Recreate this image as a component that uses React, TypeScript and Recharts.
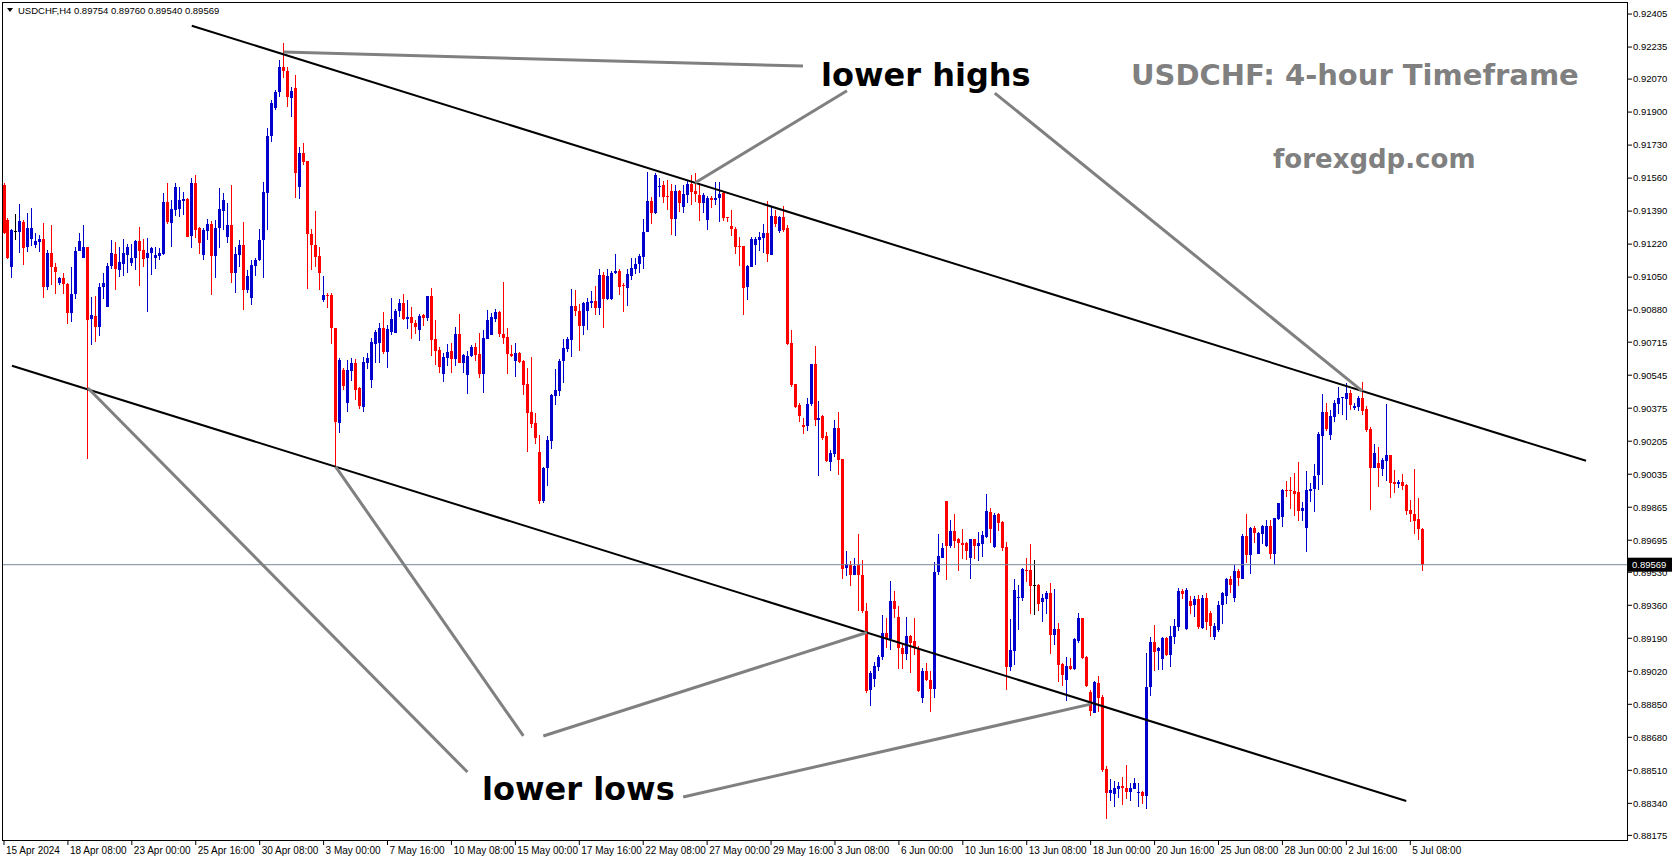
import { Bar, ComposedChart, ReferenceLine, XAxis, YAxis } from "recharts";

// USDCHF H4, prices in points (1e-5): [open, high, low, close]
const ohlc: number[][] = [
  [91524, 91533, 91270, 91275], [91344, 91353, 91141, 91147], [91104, 91296, 91044, 91292], [91287, 91375, 91241, 91287],
  [91284, 91426, 91172, 91339], [91335, 91344, 91112, 91202], [91202, 91378, 91178, 91301], [91246, 91404, 91207, 91301],
  [91215, 91275, 91198, 91236], [91232, 91267, 91181, 91246], [91246, 91327, 90941, 90997], [90997, 91189, 90983, 91172],
  [91172, 91317, 91009, 91099], [91104, 91121, 90961, 91078], [91018, 91052, 91009, 91044], [91044, 91069, 90961, 91013],
  [91013, 91021, 90812, 90863], [90863, 91104, 90820, 90961], [90961, 91207, 90941, 91184], [91184, 91275, 91181, 91236],
  [91152, 91318, 91147, 91207], [91207, 91207, 90117, 90832], [90832, 90949, 90700, 90855], [90850, 90953, 90717, 90795],
  [90795, 91018, 90743, 91001], [90997, 91069, 90937, 91018], [90894, 91121, 90894, 91107], [91107, 91241, 91090, 91176],
  [91169, 91232, 90983, 91090], [91090, 91207, 91052, 91129], [91117, 91246, 91056, 91172], [91167, 91219, 91069, 91207],
  [91124, 91219, 91104, 91150], [91150, 91241, 91087, 91238], [91238, 91310, 91006, 91189], [91189, 91246, 91104, 91141],
  [91147, 91250, 90867, 91172], [91172, 91207, 91061, 91198], [91147, 91207, 91095, 91164], [91155, 91198, 91135, 91172],
  [91172, 91481, 91164, 91438], [91438, 91536, 91327, 91335], [91330, 91447, 91207, 91401], [91399, 91533, 91361, 91516],
  [91399, 91516, 91361, 91447], [91444, 91490, 91370, 91452], [91452, 91455, 91255, 91258], [91258, 91559, 91198, 91533],
  [91533, 91576, 91250, 91292], [91301, 91310, 91172, 91224], [91164, 91301, 91138, 91292], [91284, 91349, 91241, 91322],
  [91322, 91339, 90958, 91159], [91159, 91344, 91044, 91301], [91301, 91507, 91198, 91401], [91392, 91485, 91292, 91447],
  [91258, 91430, 91224, 91318], [91318, 91524, 91018, 91073], [91073, 91207, 90970, 91169], [91164, 91241, 91104, 91215],
  [91215, 91335, 90884, 90983], [90983, 91087, 90966, 91056], [90941, 91138, 90906, 91112], [91109, 91147, 91052, 91138],
  [91138, 91296, 91129, 91241], [91241, 91541, 91047, 91486], [91486, 91816, 91292, 91777], [91777, 91962, 91747, 91945],
  [91922, 92013, 91910, 92002], [92002, 92168, 91979, 92130], [92130, 92254, 92074, 92111], [92111, 92134, 91928, 91976],
  [91976, 92031, 91876, 92010], [92022, 92091, 91456, 91584], [91512, 91722, 91456, 91687], [91687, 91739, 91624, 91641],
  [91648, 91648, 90987, 91270], [91270, 91296, 91087, 91215], [91215, 91392, 91104, 91155], [91159, 91203, 90983, 91069],
  [90932, 91056, 90923, 90958], [90958, 90966, 90889, 90953], [90958, 90966, 90704, 90786], [90786, 90786, 90074, 90300],
  [90300, 90632, 90245, 90623], [90572, 90580, 90469, 90489], [90403, 90623, 90357, 90572], [90563, 90632, 90511, 90606],
  [90606, 90626, 90417, 90465], [90477, 90486, 90374, 90383], [90383, 90640, 90357, 90614], [90606, 90661, 90580, 90632],
  [90523, 90735, 90477, 90717], [90709, 90777, 90606, 90769], [90709, 90812, 90606, 90786], [90786, 90872, 90657, 90661],
  [90661, 90803, 90580, 90781], [90769, 90941, 90752, 90834], [90764, 90886, 90764, 90875], [90872, 90937, 90846, 90915],
  [90915, 90963, 90829, 90834], [90834, 90932, 90783, 90846], [90843, 90896, 90731, 90812], [90815, 90829, 90757, 90795],
  [90778, 90858, 90718, 90851], [90857, 90860, 90800, 90841], [90841, 90953, 90826, 90953], [90953, 90996, 90645, 90726],
  [90731, 90829, 90597, 90671], [90675, 90692, 90558, 90589], [90549, 90661, 90512, 90637], [90635, 90706, 90594, 90666],
  [90669, 90711, 90558, 90630], [90630, 90795, 90594, 90757], [90757, 90860, 90606, 90609], [90609, 90654, 90558, 90649],
  [90549, 90671, 90451, 90645], [90640, 90700, 90637, 90688], [90688, 90709, 90618, 90649], [90652, 90764, 90532, 90551],
  [90551, 90778, 90455, 90735], [90731, 90881, 90731, 90829], [90748, 90863, 90748, 90843], [90834, 90886, 90817, 90869],
  [90869, 90875, 90743, 90755], [90757, 91026, 90709, 90738], [90740, 90786, 90549, 90654], [90654, 90699, 90637, 90644],
  [90618, 90709, 90532, 90661], [90661, 90666, 90609, 90615], [90620, 90623, 90443, 90494], [90499, 90580, 90146, 90352],
  [90357, 90640, 90275, 90297], [90297, 90352, 90194, 90220], [90148, 90237, 89880, 89894], [89894, 90074, 89888, 90065],
  [90065, 90233, 89976, 90211], [90208, 90446, 90165, 90443], [90439, 90577, 90391, 90469], [90465, 90627, 90434, 90620],
  [90615, 90731, 90503, 90683], [90680, 90743, 90666, 90731], [90726, 90989, 90640, 90903], [90903, 90984, 90851, 90875],
  [90875, 90912, 90671, 90800], [90798, 90924, 90752, 90918], [90872, 90941, 90778, 90920], [90918, 90978, 90889, 90927],
  [90927, 91004, 90855, 90893], [90893, 91090, 90855, 91061], [91061, 91078, 90790, 90936], [90936, 91090, 90929, 91057],
  [90941, 91081, 90932, 91073], [91073, 91169, 91066, 91081], [91081, 91090, 90958, 91001], [91009, 91021, 90872, 91004],
  [90996, 91090, 90901, 91066], [91057, 91147, 91035, 91099], [91092, 91147, 91066, 91117], [91117, 91169, 91069, 91159],
  [91155, 91349, 91092, 91282], [91282, 91590, 91279, 91442], [91442, 91464, 91327, 91382], [91382, 91588, 91378, 91576],
  [91516, 91559, 91459, 91519], [91524, 91545, 91433, 91464], [91468, 91550, 91396, 91464], [91493, 91528, 91267, 91348],
  [91348, 91524, 91262, 91493], [91493, 91499, 91387, 91433], [91413, 91524, 91378, 91478], [91473, 91550, 91433, 91530],
  [91530, 91576, 91421, 91490], [91493, 91584, 91433, 91476], [91473, 91536, 91341, 91430], [91430, 91485, 91382, 91473],
  [91344, 91468, 91293, 91456], [91456, 91468, 91408, 91444], [91444, 91542, 91421, 91456], [91459, 91538, 91332, 91478],
  [91485, 91493, 91336, 91356], [91358, 91361, 91336, 91353], [91313, 91396, 91262, 91296], [91298, 91310, 91169, 91207],
  [91210, 91255, 91104, 91207], [91210, 91210, 90855, 90996], [91001, 91112, 90932, 91107], [91104, 91255, 91099, 91246],
  [91215, 91255, 91112, 91246], [91241, 91282, 91186, 91257], [91253, 91324, 91176, 91279], [91279, 91442, 91130, 91169],
  [91166, 91416, 91164, 91365], [91365, 91396, 91306, 91324], [91284, 91366, 91279, 91358], [91358, 91416, 91284, 91293],
  [91305, 91318, 90700, 90709], [90712, 90778, 90486, 90494], [90499, 90499, 90374, 90383], [90389, 90403, 90307, 90331],
  [90291, 90322, 90240, 90280], [90286, 90426, 90258, 90399], [90394, 90602, 90385, 90602], [90602, 90696, 90286, 90316],
  [90316, 90412, 90024, 90327], [90334, 90340, 90210, 90222], [90231, 90253, 90096, 90100], [90100, 90159, 90051, 90145],
  [90141, 90313, 90123, 90273], [90273, 90358, 90036, 90110], [90114, 90114, 89494, 89549], [89549, 89639, 89509, 89572],
  [89567, 89590, 89460, 89518], [89518, 89603, 89514, 89563], [89567, 89726, 89328, 89513], [89518, 89594, 89323, 89332],
  [89328, 89370, 88907, 88918], [88922, 89021, 88841, 89012], [88980, 89066, 88936, 89048], [89043, 89102, 89021, 89093],
  [89090, 89310, 89079, 89216], [89216, 89296, 89139, 89184], [89184, 89487, 89130, 89382], [89382, 89433, 89296, 89343],
  [89301, 89355, 89030, 89139], [89139, 89166, 89030, 89106], [89108, 89301, 89079, 89202], [89202, 89207, 89012, 89166],
  [89175, 89292, 89102, 89139], [89142, 89151, 88913, 88922], [88880, 89039, 88859, 89021], [89021, 89061, 88967, 88976],
  [88976, 89021, 88808, 88931], [88931, 89581, 88880, 89531], [89531, 89726, 89513, 89612], [89608, 89680, 89603, 89657],
  [89897, 89897, 89491, 89666], [89668, 89798, 89653, 89744], [89744, 89830, 89653, 89690], [89699, 89708, 89536, 89677],
  [89680, 89753, 89599, 89671], [89680, 89684, 89590, 89641], [89603, 89702, 89494, 89699], [89699, 89702, 89599, 89662],
  [89662, 89738, 89590, 89680], [89677, 89744, 89608, 89722], [89711, 89933, 89708, 89847], [89842, 89859, 89679, 89756],
  [89662, 89837, 89658, 89825], [89830, 89837, 89742, 89782], [89791, 89796, 89641, 89657], [89662, 89688, 88924, 89044],
  [89044, 89289, 89023, 89130], [89126, 89495, 89052, 89439], [89399, 89464, 89233, 89404], [89399, 89550, 89382, 89547],
  [89542, 89605, 89482, 89538], [89542, 89676, 89315, 89461], [89464, 89593, 89310, 89464], [89464, 89470, 89332, 89367],
  [89379, 89416, 89270, 89399], [89392, 89435, 89315, 89425], [89425, 89476, 89109, 89207], [89207, 89444, 89155, 89238],
  [89238, 89270, 88967, 89052], [89058, 89061, 88941, 89001], [88979, 89095, 88869, 89049], [89049, 89090, 89030, 89035],
  [89032, 89190, 89023, 89185], [89178, 89322, 89169, 89296], [89296, 89296, 89087, 89092], [89095, 89099, 88941, 88946],
  [88912, 88924, 88790, 88812], [88809, 88970, 88807, 88967], [88961, 88996, 88812, 88884], [88889, 88898, 88503, 88515],
  [88517, 88534, 88259, 88395], [88395, 88465, 88352, 88409], [88391, 88455, 88319, 88421], [88414, 88452, 88371, 88431],
  [88429, 88474, 88331, 88421], [88421, 88537, 88360, 88400], [88400, 88443, 88352, 88421], [88414, 88469, 88412, 88443],
  [88397, 88446, 88323, 88400], [88400, 88403, 88336, 88378], [88374, 89116, 88311, 88937], [88941, 89195, 88893, 89173],
  [89173, 89258, 89023, 89121], [89121, 89147, 89030, 89138], [89083, 89198, 89030, 89193], [89193, 89198, 89100, 89104],
  [89104, 89253, 89044, 89203], [89198, 89289, 89159, 89255], [89250, 89447, 89224, 89433], [89435, 89444, 89392, 89418],
  [89240, 89451, 89233, 89440], [89382, 89408, 89315, 89358], [89358, 89408, 89301, 89391], [89391, 89413, 89236, 89245],
  [89245, 89413, 89236, 89399], [89399, 89421, 89233, 89275], [89318, 89330, 89198, 89250], [89198, 89267, 89181, 89255],
  [89233, 89384, 89224, 89361], [89361, 89430, 89267, 89421], [89409, 89499, 89366, 89495], [89495, 89511, 89425, 89464],
  [89399, 89567, 89378, 89538], [89538, 89545, 89459, 89502], [89499, 89725, 89499, 89718], [89718, 89830, 89576, 89619],
  [89619, 89765, 89521, 89760], [89760, 89768, 89682, 89734], [89624, 89739, 89624, 89734], [89727, 89773, 89674, 89768],
  [89665, 89799, 89662, 89768], [89768, 89799, 89597, 89624], [89624, 89811, 89567, 89808], [89803, 89888, 89799, 89885],
  [89813, 89957, 89760, 89954], [89954, 90000, 89919, 89948], [89952, 90022, 89857, 89945], [89948, 90039, 89816, 89935],
  [89945, 90096, 89790, 89845], [89847, 89890, 89790, 89863], [89760, 90051, 89633, 89954], [89950, 89988, 89888, 89959],
  [89959, 90086, 89837, 90027], [90027, 90254, 89957, 90240], [90232, 90446, 89979, 90357], [90357, 90403, 90257, 90271],
  [90237, 90366, 90211, 90335], [90331, 90417, 90306, 90403], [90396, 90486, 90348, 90426], [90426, 90434, 90340, 90431],
  [90426, 90503, 90314, 90455], [90455, 90469, 90366, 90391], [90378, 90400, 90366, 90386], [90383, 90438, 90360, 90429],
  [90429, 90508, 90340, 90360], [90371, 90386, 90254, 90263], [90268, 90280, 89851, 90069], [90069, 90191, 90065, 90146],
  [90094, 90177, 89971, 90069], [90062, 90120, 90027, 90108], [90103, 90396, 89999, 90134], [90134, 90134, 89911, 89991],
  [89997, 90057, 89940, 89985], [89988, 90005, 89966, 89997], [89993, 90034, 89954, 89971], [89980, 89985, 89825, 89847],
  [89851, 89902, 89787, 89828], [89830, 90062, 89727, 89794], [89804, 89911, 89696, 89753], [89754, 89760, 89540, 89569],
];

// time axis labels, one every 16 bars
const timeLabels = [
  "15 Apr 2024", "18 Apr 08:00", "23 Apr 00:00", "25 Apr 16:00", "30 Apr 08:00", "3 May 00:00",
  "7 May 16:00", "10 May 08:00", "15 May 00:00", "17 May 16:00", "22 May 08:00", "27 May 00:00",
  "29 May 16:00", "3 Jun 08:00", "6 Jun 00:00", "10 Jun 16:00", "13 Jun 08:00", "18 Jun 00:00",
  "20 Jun 16:00", "25 Jun 08:00", "28 Jun 00:00", "2 Jul 16:00", "5 Jul 08:00",
];
const barsPerLabel = 16;

const priceTicks = [
  0.92405, 0.92235, 0.9207, 0.919, 0.9173, 0.9156, 0.9139, 0.9122, 0.9105, 0.9088, 0.90715, 0.90545, 0.90375,
  0.90205, 0.90035, 0.89865, 0.89695, 0.8953, 0.8936, 0.8919, 0.8902, 0.8885, 0.8868, 0.8851, 0.8834, 0.88175,
];
const lastPrice = 0.89569;
const priceDomain = [0.88146, 0.92467];
const totalSlots = 407; // bars + empty shift space on the right

// trend channel (bar index, price)
const upperChannel = [
  { x: 47, y: 0.92345 },
  { x: 396, y: 0.90104 },
];
const lowerChannel = [
  { x: 2, y: 0.90594 },
  { x: 351, y: 0.88352 },
];

// callout pointers (bar index, price)
const pointers = [
  [{ x: 70, y: 0.92209 }, { x: 200, y: 0.92137 }],
  [{ x: 173, y: 0.91536 }, { x: 211, y: 0.9201 }],
  [{ x: 248, y: 0.91998 }, { x: 340, y: 0.90463 }],
  [{ x: 21, y: 0.90479 }, { x: 116, y: 0.88501 }],
  [{ x: 83, y: 0.90074 }, { x: 130, y: 0.88687 }],
  [{ x: 216, y: 0.8922 }, { x: 135, y: 0.88687 }],
  [{ x: 272, y: 0.88851 }, { x: 170, y: 0.88373 }],
];

const data = Array.from({ length: totalSlots }, (_, i) => {
  const bar = ohlc[i];
  if (!bar) return { i };
  const [o, h, l, c] = bar.map((v) => v / 1e5);
  return { i, o, h, l, c, range: [l, h] };
});

const labelSlots = timeLabels.map((_, n) => n * barsPerLabel);

const axisFont = "'Liberation Sans', Arial, sans-serif";

function Candle(props: any) {
  const { x, y, width, height, payload } = props;
  if (!payload || !payload.range) return null;
  const top = Math.min(y, y + height);
  const span = Math.abs(height);
  const { o, h, l, c } = payload;
  const k = span / (h - l || 1);
  const cx = Math.floor(x + width / 2);
  const bodyTop = top + (h - Math.max(o, c)) * k;
  const bodyBot = top + (h - Math.min(o, c)) * k;
  const color = c > o ? "#0000cd" : c < o ? "#ff0000" : "#000000";
  return (
    <g>
      <rect x={cx} y={Math.round(top)} width={1} height={Math.max(1, Math.round(span))} fill={color} />
      <rect
        x={cx - 1}
        y={Math.round(bodyTop)}
        width={3}
        height={Math.max(1, Math.round(bodyBot - bodyTop))}
        fill={color}
      />
    </g>
  );
}

function TimeTick(props: any) {
  const { x, y, payload } = props;
  const label = timeLabels[payload.value / barsPerLabel];
  return (
    <g>
      <line x1={x} x2={x} y1={y} y2={y + 4} stroke="#000" />
      <text x={x + 2} y={y + 13} fontSize={10} fontFamily={axisFont} fill="#000" textAnchor="start">
        {label}
      </text>
    </g>
  );
}

function PriceTick(props: any) {
  const { x, y, payload } = props;
  const v = payload.value as number;
  if (v === lastPrice) {
    return (
      <g>
        <rect x={x} y={y - 7} width={44} height={14} fill="#000" />
        <text x={x + 4} y={y} dy="0.35em" fontSize={9.5} fontFamily={axisFont} fill="#fff">
          {v.toFixed(5)}
        </text>
      </g>
    );
  }
  return (
    <g>
      <line x1={x} x2={x + 4} y1={y} y2={y} stroke="#000" />
      <text x={x + 5} y={y} dy="0.35em" fontSize={9.5} fontFamily={axisFont} fill="#000">
        {v.toFixed(5)}
      </text>
    </g>
  );
}

export default function App() {
  return (
    <div style={{ position: "relative", width: 1673, height: 861, background: "#fff" }}>
      <style>{`body{margin:0;}`}</style>
      <ComposedChart
        width={1673}
        height={861}
        data={data}
        margin={{ top: 2, right: 0, bottom: 0, left: 2 }}
        barCategoryGap={0}
      >
        <XAxis
          dataKey="i"
          type="category"
          ticks={labelSlots}
          interval={0}
          height={20}
          tickSize={0}
          tickMargin={0}
          tickLine={false}
          axisLine={false}
          tick={<TimeTick />}
        />
        <YAxis
          orientation="right"
          type="number"
          domain={priceDomain}
          allowDataOverflow
          ticks={[...priceTicks, lastPrice]}
          interval={0}
          width={45}
          tickSize={0}
          tickMargin={0}
          tickLine={false}
          axisLine={false}
          tick={<PriceTick />}
        />
        <ReferenceLine y={lastPrice} stroke="#778899" strokeWidth={1} ifOverflow="visible" />
        <Bar dataKey="range" shape={<Candle />} isAnimationActive={false} />
        <ReferenceLine segment={upperChannel} stroke="#000" strokeWidth={2} ifOverflow="visible" />
        <ReferenceLine segment={lowerChannel} stroke="#000" strokeWidth={2} ifOverflow="visible" />
        {pointers.map((seg, n) => (
          <ReferenceLine key={n} segment={seg} stroke="#808080" strokeWidth={3} ifOverflow="visible" />
        ))}
      </ComposedChart>
      <svg
        width={1673}
        height={861}
        style={{ position: "absolute", left: 0, top: 0, pointerEvents: "none" }}
      >
        <rect x={2.5} y={2.5} width={1625} height={838} fill="none" stroke="#000" strokeWidth={1} />
        <path d="M7 8 L13 8 L10 12 Z" fill="#000" />
        <text x={18} y={14} fontSize={9.5} fontFamily={axisFont} fill="#000">
          USDCHF,H4  0.89754 0.89760 0.89540 0.89569
        </text>
        <text x={821} y={86} fontSize={32} fontWeight="bold" fontFamily="'DejaVu Sans', sans-serif" fill="#000">
          lower highs
        </text>
        <text x={482} y={800} fontSize={32} fontWeight="bold" fontFamily="'DejaVu Sans', sans-serif" fill="#000">
          lower lows
        </text>
        <text x={1131} y={85} fontSize={29} fontWeight="bold" fontFamily="'DejaVu Sans', sans-serif" fill="#808080">
          USDCHF: 4-hour Timeframe
        </text>
        <text x={1273} y={168} fontSize={26} fontWeight="bold" fontFamily="'DejaVu Sans', sans-serif" fill="#808080">
          forexgdp.com
        </text>
      </svg>
    </div>
  );
}
